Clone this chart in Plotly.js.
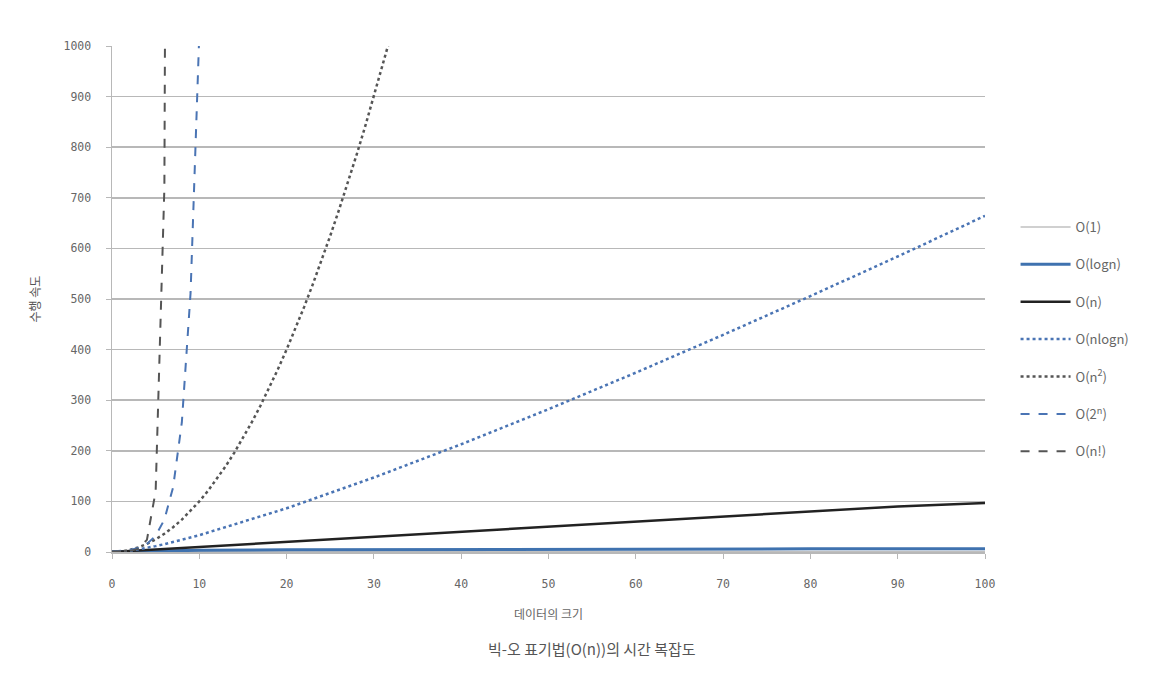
<!DOCTYPE html>
<html><head><meta charset="utf-8">
<script src="https://cdn.plot.ly/plotly-3.0.1.min.js"></script>
<style>body{margin:0;background:#fff}#c{width:1165px;height:682px}</style>
</head><body><div id="c"></div>
<script>
// Data
const xLin = [0,1,2,3,4,5,6,7,8,9,10,20,30,40,50,60,70,80,90,100];
const yConst = [1,1,1,1,1,1,1,1,1,1,1,1,1,1,1,1,1,1,1,1];
const yLog = [0,0,1,1.58,2,2.32,2.58,2.81,3,3.17,3.32,4.32,4.91,5.32,5.64,5.91,6.13,6.32,6.49,6.64];
const yLinear = [0,1,2,3,4,5,6,7,8,9,10,20,30,40,50,60,70,80,90,97];
const yNlogN = [0,0,2,4.75,8,11.6,15.5,19.7,24,28.5,33.2,86.4,147.2,212.9,282.2,354.4,429.1,505.8,584.0,664.4];
const xSq = [0,1,2,3,4,5,6,7,8,9,10,11,12,13,14,15,16,17,18,19,20,21,22,23,24,25,26,27,28,29,30,31,32,33];
const ySq = [0,1,4,9,16,25,36,49,64,81,100,121,144,169,196,225,256,289,324,361,400,441,484,529,576,625,676,729,784,841,900,961,1024,1089];
const xExp = [0,1,2,3,4,5,6,7,8,9,10,11];
const yExp = [1,2,4,8,16,32,64,128,256,512,1024,2048];
const xFact = [0,1,2,3,4,5,6,7];
const yFact = [1,1,2,6,24,120,720,5040];
const names = ['O(1)','O(logn)','O(n)','O(nlogn)','O(n<sup>2</sup>)','O(2<sup>n</sup>)','O(n!)'];

const blue = '#4a74b4';
const dark = '#555555';
const traces = [
  {x:xLin, y:yConst, line:{color:'#c0c0c0', width:1.5}},
  {x:xLin, y:yLog, line:{color:'#3f72af', width:3}},
  {x:xLin, y:yLinear, line:{color:'#222222', width:2.5}},
  {x:xLin, y:yNlogN, line:{color:blue, width:2.5, dash:'dot'}},
  {x:xSq, y:ySq, line:{color:dark, width:2.5, dash:'dot'}},
  {x:xExp, y:yExp, line:{color:blue, width:2, dash:'dash'}},
  {x:xFact, y:yFact, line:{color:dark, width:2, dash:'dash'}}
].map((t,i)=>Object.assign(t,{type:'scatter', mode:'lines', name:names[i], legendgroup:'g'+i, cliponaxis:true}));

const tickFont = {family:'DejaVu Sans Mono, monospace', size:11.5, color:'#666'};
const layout = {
  width:1165, height:682,
  margin:{l:112, r:180, t:46, b:130},
  paper_bgcolor:'#fff', plot_bgcolor:'#fff',
  showlegend:true,
  legend:{x:1.035, y:0.672, xanchor:'left', yanchor:'top', traceorder:'grouped', tracegroupgap:17.5,
    itemwidth:50, font:{family:'Noto Sans CJK KR, Noto Sans, sans-serif', size:13, color:'#666'}},
  xaxis:{range:[0,100], tickvals:[0,10,20,30,40,50,60,70,80,90,100], showgrid:false, zeroline:false,
    showline:true, linecolor:'#b8b8b8', linewidth:1.5, ticks:'outside', ticklen:5, tickcolor:'#b8b8b8',
    ticklabelstandoff:16, tickfont:tickFont,
    title:{text:'데이터의 크기', font:{family:'Noto Sans CJK KR, sans-serif', size:12, color:'#666'}, standoff:20}},
  yaxis:{range:[0,1000], tickvals:[0,100,200,300,400,500,600,700,800,900,1000], showgrid:true,
    gridcolor:'#b8b8b8', gridwidth:1.5, zeroline:false, showline:true, linecolor:'#b8b8b8', linewidth:1.5,
    ticks:'outside', ticklen:5, tickcolor:'#b8b8b8', ticklabelstandoff:12, tickfont:tickFont,
    title:{text:'수행 속도', font:{family:'Noto Sans CJK KR, sans-serif', size:12, color:'#555'}, standoff:20}},
  annotations:[{text:'빅-오 표기법(O(n))의 시간 복잡도', xref:'paper', yref:'paper', x:0.55, y:-0.19,
    yanchor:'middle', showarrow:false, font:{family:'Noto Sans CJK KR, sans-serif', size:15, color:'#555'}}]
};
Plotly.newPlot('c', traces, layout, {displayModeBar:false, staticPlot:true});
</script></body></html>
